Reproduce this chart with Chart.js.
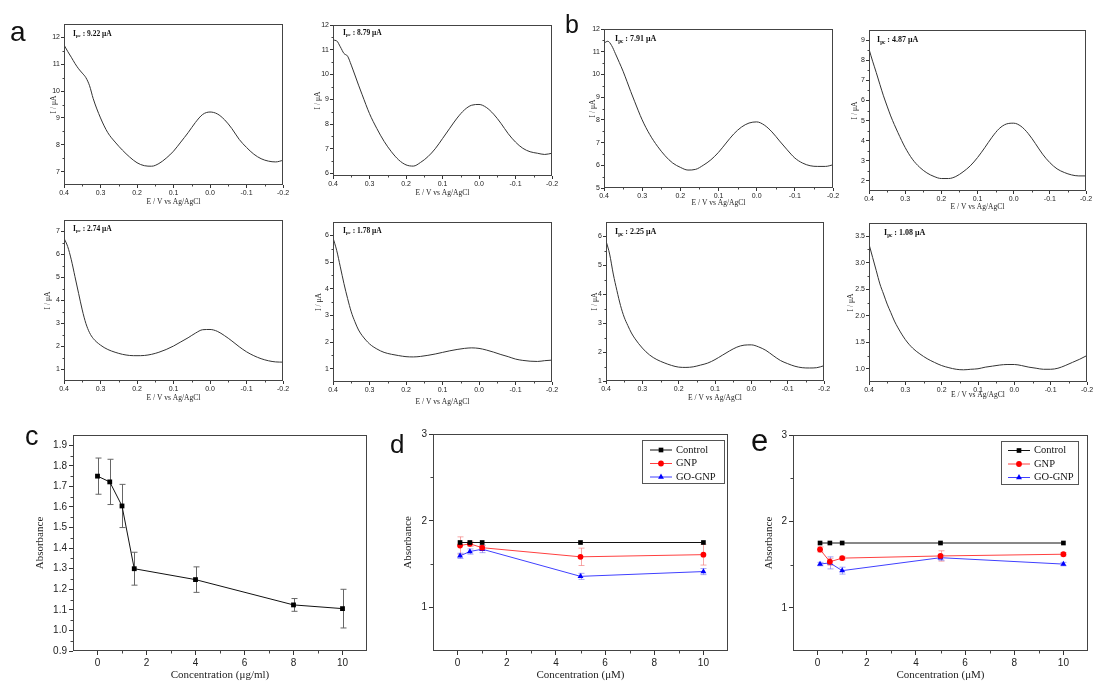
<!DOCTYPE html>
<html>
<head>
<meta charset="utf-8">
<script src="https://cdn.jsdelivr.net/npm/chart.js@4.4.1/dist/chart.umd.min.js"></script>
<style>
    html, body { margin: 0; padding: 0; background: #fff; }
    body { width: 1114px; height: 686px; position: relative; overflow: hidden; }
    canvas { position: absolute; }
    .pc-letra { position: absolute; font-family: "Liberation Sans", Arial, sans-serif; line-height: 1; color: #111; }
    .pc-ipc { position: absolute; font-family: "Liberation Serif", "Times New Roman", serif; font-weight: bold; line-height: 1; color: #111; white-space: nowrap; }
    .pc-ipc sub { font-size: 65%; vertical-align: -0.3em; line-height: 0; }
</style>
</head>
<body>
<script>
/* ============================================================
   CV + ABSORBANCE FIGURE
============================================================ */

/* ---- DPV curves (potential grid shared by the 8 panels) ---- */
const POTENCIAL = [0.40, 0.39, 0.38, 0.37, 0.36, 0.35, 0.34, 0.33, 0.32, 0.30, 0.28, 0.26, 0.24, 0.22, 0.20, 0.18, 0.16, 0.14, 0.12, 0.10, 0.08, 0.06, 0.04, 0.02, 0.00, -0.02, -0.04, -0.06, -0.08, -0.10, -0.12, -0.14, -0.16, -0.18, -0.20];

const I_A1 = [11.72, 11.48, 11.26, 11.03, 10.83, 10.67, 10.5, 10.2, 9.72, 9.0, 8.45, 8.1, 7.8, 7.54, 7.33, 7.22, 7.2, 7.3, 7.5, 7.76, 8.1, 8.45, 8.83, 9.13, 9.22, 9.15, 8.93, 8.6, 8.2, 7.9, 7.65, 7.48, 7.39, 7.36, 7.42];
const I_A2 = [11.39, 11.36, 11.12, 10.85, 10.74, 10.38, 9.98, 9.57, 9.18, 8.42, 7.82, 7.3, 6.88, 6.55, 6.35, 6.3, 6.45, 6.68, 7.0, 7.41, 7.83, 8.24, 8.57, 8.76, 8.79, 8.67, 8.4, 8.03, 7.61, 7.27, 7.02, 6.88, 6.82, 6.77, 6.82];
const I_A3 = [6.71, 6.35, 5.77, 5.04, 4.31, 3.59, 3.0, 2.6, 2.35, 2.06, 1.87, 1.75, 1.66, 1.61, 1.6, 1.61, 1.66, 1.75, 1.87, 2.02, 2.2, 2.38, 2.58, 2.73, 2.74, 2.66, 2.47, 2.24, 1.99, 1.77, 1.6, 1.47, 1.38, 1.33, 1.32];
const I_A4 = [5.91, 5.44, 4.82, 4.19, 3.63, 3.13, 2.76, 2.45, 2.24, 1.93, 1.74, 1.61, 1.54, 1.49, 1.45, 1.44, 1.46, 1.5, 1.55, 1.61, 1.67, 1.72, 1.76, 1.78, 1.76, 1.7, 1.62, 1.53, 1.45, 1.36, 1.31, 1.28, 1.27, 1.3, 1.32];
const I_B1 = [11.38, 11.46, 11.27, 10.91, 10.53, 10.14, 9.7, 9.25, 8.82, 8.0, 7.35, 6.84, 6.42, 6.1, 5.91, 5.79, 5.82, 6.0, 6.24, 6.57, 6.98, 7.38, 7.68, 7.86, 7.91, 7.77, 7.47, 7.07, 6.68, 6.32, 6.1, 5.98, 5.95, 5.95, 6.02];
const I_B2 = [8.55, 7.95, 7.39, 6.8, 6.23, 5.72, 5.23, 4.8, 4.4, 3.66, 3.08, 2.68, 2.4, 2.22, 2.12, 2.12, 2.22, 2.45, 2.75, 3.16, 3.65, 4.17, 4.6, 4.83, 4.87, 4.72, 4.36, 3.86, 3.33, 2.91, 2.6, 2.42, 2.3, 2.25, 2.25];
const I_B3 = [5.85, 5.39, 4.7, 4.13, 3.61, 3.21, 2.92, 2.66, 2.46, 2.14, 1.9, 1.74, 1.63, 1.54, 1.48, 1.47, 1.49, 1.55, 1.62, 1.74, 1.89, 2.04, 2.17, 2.24, 2.25, 2.18, 2.06, 1.88, 1.71, 1.6, 1.51, 1.46, 1.45, 1.46, 1.53];
const I_B4 = [3.35, 3.1, 2.85, 2.6, 2.41, 2.22, 2.06, 1.9, 1.77, 1.55, 1.39, 1.28, 1.19, 1.12, 1.06, 1.02, 0.99, 0.98, 0.99, 1.0, 1.03, 1.05, 1.07, 1.08, 1.08, 1.06, 1.03, 1.01, 0.99, 0.99, 1.01, 1.06, 1.12, 1.18, 1.25];

const IPC_TEXTOS = ["9.22", "8.79", "7.91", "4.87", "2.74", "1.78", "2.25", "1.08"];

const TICKS_POT = [0.4, 0.3, 0.2, 0.1, 0.0, -0.1, -0.2];
const TICKS_A1 = [7, 8, 9, 10, 11, 12];
const TICKS_A2 = [6, 7, 8, 9, 10, 11, 12];
const TICKS_B1 = [5, 6, 7, 8, 9, 10, 11, 12];
const TICKS_B2 = [2, 3, 4, 5, 6, 7, 8, 9];
const TICKS_A3 = [1, 2, 3, 4, 5, 6, 7];
const TICKS_A4 = [1, 2, 3, 4, 5, 6];
const TICKS_B3 = [1, 2, 3, 4, 5, 6];
const TICKS_B4 = [1.0, 1.5, 2.0, 2.5, 3.0, 3.5];

/* ---- panel c ---- */
const CONC_C = [0, 0.5, 1, 1.5, 4, 8, 10];
const ABS_C = [1.75, 1.722, 1.605, 1.30, 1.247, 1.124, 1.106];
const ERR_C = [0.088, 0.11, 0.105, 0.08, 0.062, 0.031, 0.094];
const TICKS_CONC = [0, 2, 4, 6, 8, 10];
const TICKS_ABS_C = [0.9, 1.0, 1.1, 1.2, 1.3, 1.4, 1.5, 1.6, 1.7, 1.8, 1.9];

/* ---- panels d / e ---- */
const SERIES = ["Control", "GNP", "GO-GNP"];
const CONC_DE = [0.1, 0.5, 1, 5, 10];
const D_CONTROL = [1.75, 1.75, 1.75, 1.75, 1.75];
const D_GNP = [1.715, 1.735, 1.69, 1.585, 1.61];
const D_GOGNP = [1.596, 1.646, 1.673, 1.36, 1.415];
const D_GNP_ERR = [0.1, 0.03, 0.03, 0.1, 0.12];
const D_GOGNP_ERR = [0.03, 0.03, 0.04, 0.035, 0.035];
const E_CONTROL = [1.75, 1.75, 1.75, 1.75, 1.75];
const E_GNP = [1.675, 1.533, 1.575, 1.6, 1.62];
const E_GOGNP = [1.506, 1.52, 1.43, 1.58, 1.506];
const E_GNP_ERR = [0.03, 0.04, 0.02, 0.06, 0.02];
const E_GOGNP_ERR = [0.02, 0.07, 0.04, 0.03, 0.02];
const TICKS_ABS_DE = [1, 2, 3];

/* ============================================================ */

const SANS = "'Liberation Sans', Arial, sans-serif";
const SERIF = "'Liberation Serif', 'Times New Roman', serif";

// frame, minor ticks, error bars and the boxed legend (Origin look)
const pcFrame = {
    id: "frame",
    beforeDatasetsDraw(chart) {
        const ctx = chart.ctx;
        const xs = chart.scales.x, ys = chart.scales.y;
        for (const ds of chart.data.datasets) {
            if (!ds.errores) continue;
            ctx.save();
            ctx.strokeStyle = ds.errorColor;
            ctx.lineWidth = 1;
            ds.data.forEach((p, i) => {
                const e = ds.errores[i];
                if (!e) return;
                const px = Math.round(xs.getPixelForValue(p.x)) + 0.5;
                const y1 = ys.getPixelForValue(p.y + e);
                const y2 = ys.getPixelForValue(p.y - e);
                ctx.beginPath();
                ctx.moveTo(px, y1); ctx.lineTo(px, y2);
                ctx.moveTo(px - 3, y1); ctx.lineTo(px + 3, y1);
                ctx.moveTo(px - 3, y2); ctx.lineTo(px + 3, y2);
                ctx.stroke();
            });
            ctx.restore();
        }
    },
    afterDraw(chart, args, opts) {
        const ctx = chart.ctx;
        const a = chart.chartArea;
        const xs = chart.scales.x, ys = chart.scales.y;
        ctx.save();
        ctx.strokeStyle = opts.color;
        ctx.lineWidth = 1;
        ctx.strokeRect(Math.round(a.left) + 0.5, Math.round(a.top) + 0.5,
            Math.round(a.right - a.left) - 1, Math.round(a.bottom - a.top) - 1);

        // minor ticks halfway between majors
        ctx.beginPath();
        for (let i = 1; i < xs.ticks.length; i++) {
            const m = (xs.ticks[i - 1].value + xs.ticks[i].value) / 2;
            const px = Math.round(xs.getPixelForValue(m)) + 0.5;
            ctx.moveTo(px, a.bottom); ctx.lineTo(px, a.bottom + opts.minor);
        }
        for (let i = 1; i < ys.ticks.length; i++) {
            const m = (ys.ticks[i - 1].value + ys.ticks[i].value) / 2;
            const py = Math.round(ys.getPixelForValue(m)) + 0.5;
            ctx.moveTo(a.left, py); ctx.lineTo(a.left - opts.minor, py);
        }
        ctx.stroke();

        const lg = opts.legend;
        if (lg) {
            const bx = Math.round(a.right - lg.right - lg.w);
            const by = Math.round(a.top + lg.top);
            ctx.strokeStyle = "#555";
            ctx.strokeRect(bx + 0.5, by + 0.5, lg.w, lg.h);
            chart.data.datasets.forEach((ds, i) => {
                const cy = by + lg.first + i * lg.row;
                const x1 = bx + lg.pad, x2 = x1 + 22;
                ctx.strokeStyle = ds.borderColor;
                ctx.lineWidth = 1;
                ctx.beginPath(); ctx.moveTo(x1, cy); ctx.lineTo(x2, cy); ctx.stroke();
                ctx.fillStyle = ds.pointBackgroundColor;
                Chart.helpers.drawPoint(ctx, { pointStyle: ds.pointStyle, radius: ds.pointRadius, borderWidth: 0, rotation: 0 }, (x1 + x2) / 2, cy);
                ctx.fillStyle = "#111";
                ctx.font = "10.5px " + SERIF;
                ctx.textBaseline = "middle";
                ctx.textAlign = "left";
                ctx.fillText(ds.label, x2 + 4, cy);
            });
        }
        ctx.restore();
    }
};

function pc_canvas(left, top, w, h) {
    const c = document.createElement("canvas");
    c.width = w; c.height = h;
    c.style.left = left + "px";
    c.style.top = top + "px";
    c.style.width = w + "px";
    c.style.height = h + "px";
    document.body.appendChild(c);
    return c;
}

function pc_chart(cfg) {
    const [l, t, r, b] = cfg.box;
    const lh = cfg.titleSize * 1.2;
    const left = Math.round(cfg.yTitle - lh / 2);
    const bottom = Math.round(cfg.xTitle + lh / 2);
    const top = t - 10;
    const right = r + 20;
    const canvas = pc_canvas(left, top, right - left, bottom - top);
    const yW = l - left;
    const xH = bottom - b;

    const tickFont = { family: SANS, size: cfg.tickSize };
    const titleFont = { family: SERIF, size: cfg.titleSize };
    const grid = { drawOnChartArea: false, drawTicks: true, tickLength: cfg.tickLen, color: "#333" };

    return new Chart(canvas, {
        type: "line",
        data: { datasets: cfg.datasets },
        options: {
            responsive: false,
            animation: false,
            events: [],
            layout: { padding: { left: 0, top: 10, right: 20, bottom: 0 } },
            plugins: {
                legend: { display: false },
                tooltip: { enabled: false },
                frame: { color: "#444", minor: cfg.tickLen - 1.5, legend: cfg.legend || null }
            },
            scales: {
                x: {
                    type: "linear",
                    reverse: !!cfg.xReverse,
                    min: cfg.xMin, max: cfg.xMax,
                    afterBuildTicks: s => { s.ticks = cfg.xTicks.map(v => ({ value: v })); },
                    afterFit: s => { s.height = xH; },
                    ticks: {
                        font: tickFont, color: "#222", padding: cfg.tickPad,
                        maxRotation: 0, autoSkip: false,
                        callback: v => (Math.abs(v) < 1e-9 ? 0 : v).toFixed(cfg.xDec)
                    },
                    grid: grid,
                    border: { display: false },
                    title: { display: true, text: cfg.xLabel, font: titleFont, color: "#222", padding: 0 }
                },
                y: {
                    type: "linear",
                    min: cfg.yMin, max: cfg.yMax,
                    afterBuildTicks: s => { s.ticks = cfg.yTicks.map(v => ({ value: v })); },
                    afterFit: s => { s.width = yW; },
                    ticks: {
                        font: tickFont, color: "#222", padding: cfg.tickPad,
                        autoSkip: false,
                        callback: v => v.toFixed(cfg.yDec)
                    },
                    grid: grid,
                    border: { display: false },
                    title: { display: true, text: cfg.yLabel, font: titleFont, color: "#222", padding: 0 }
                }
            }
        },
        plugins: [pcFrame]
    });
}

function pc_zip(xs, ys) {
    return xs.map((x, i) => ({ x: x, y: ys[i] }));
}

/* ---- the eight voltammograms ---- */
const CV_PANELES = [
    { cur: I_A1, ticks: TICKS_A1, yMin: 6.5, yMax: 12.5, box: [64, 24, 283, 185], yT: 54, xT: 202, ipc: [73, 34, 7.5] },
    { cur: I_A2, ticks: TICKS_A2, yMin: 5.9, yMax: 12, box: [333, 25, 552, 176], yT: 318, xT: 193, ipc: [343, 33, 7.5] },
    { cur: I_B1, ticks: TICKS_B1, yMin: 5, yMax: 12, box: [604, 29, 833, 188], yT: 593, xT: 203, ipc: [615, 39, 8] },
    { cur: I_B2, ticks: TICKS_B2, yMin: 1.5, yMax: 9.5, box: [869, 30, 1086, 191], yT: 855, xT: 207, ipc: [877, 40, 8] },
    { cur: I_A3, ticks: TICKS_A3, yMin: 0.5, yMax: 7.5, box: [64, 220, 283, 381], yT: 48, xT: 398, ipc: [73, 229, 7.5] },
    { cur: I_A4, ticks: TICKS_A4, yMin: 0.5, yMax: 6.5, box: [333, 222, 552, 382], yT: 319, xT: 402, ipc: [343, 231, 7.5] },
    { cur: I_B3, ticks: TICKS_B3, yMin: 1, yMax: 6.5, box: [606, 222, 824, 381], yT: 595, xT: 398, ipc: [615, 232, 8] },
    { cur: I_B4, ticks: TICKS_B4, yMin: 0.75, yMax: 3.75, box: [869, 223, 1087, 382], yT: 851, xT: 395, ipc: [884, 233, 8] }
];

CV_PANELES.forEach((p, i) => {
    pc_chart({
        box: p.box, yTitle: p.yT, xTitle: p.xT,
        titleSize: 7.5, tickSize: 7, tickLen: 3, tickPad: 1,
        xMin: -0.2, xMax: 0.4, xReverse: true, xTicks: TICKS_POT, xDec: 1,
        yMin: p.yMin, yMax: p.yMax, yTicks: p.ticks,
        yDec: p.ticks.some(v => v % 1 !== 0) ? 1 : 0,
        xLabel: "E / V vs Ag/AgCl", yLabel: "I / \u03bcA",
        datasets: [{
            data: pc_zip(POTENCIAL, p.cur),
            borderColor: "#333", borderWidth: 1,
            pointRadius: 0, cubicInterpolationMode: "monotone"
        }]
    });

    const d = document.createElement("div");
    d.className = "pc-ipc";
    d.style.left = p.ipc[0] + "px";
    d.style.top = (p.ipc[1] - p.ipc[2] / 2) + "px";
    d.style.fontSize = p.ipc[2] + "px";
    d.innerHTML = "I<sub>pc</sub> : " + IPC_TEXTOS[i] + " \u03bcA";
    document.body.appendChild(d);
});

/* ---- c ---- */
pc_chart({
    box: [73, 435, 367, 651], yTitle: 41, xTitle: 675,
    titleSize: 11, tickSize: 10, tickLen: 4, tickPad: 2,
    xMin: -1, xMax: 11, xTicks: TICKS_CONC, xDec: 0,
    yMin: 0.9, yMax: 1.95, yTicks: TICKS_ABS_C, yDec: 1,
    xLabel: "Concentration (\u03bcg/ml)", yLabel: "Absorbance",
    datasets: [{
        data: pc_zip(CONC_C, ABS_C), errores: ERR_C, errorColor: "#666",
        borderColor: "#111", borderWidth: 1,
        pointStyle: "rect", pointRadius: 3.4, pointBackgroundColor: "#000", pointBorderWidth: 0
    }]
});

/* ---- d / e ---- */
function pc_seriesDE(control, gnp, gognp, gnpErr, gognpErr) {
    return [
        { label: SERIES[0], data: pc_zip(CONC_DE, control), borderColor: "#111", borderWidth: 1,
          pointStyle: "rect", pointRadius: 3.3, pointBackgroundColor: "#000", pointBorderWidth: 0 },
        { label: SERIES[1], data: pc_zip(CONC_DE, gnp), errores: gnpErr, errorColor: "rgba(240,110,110,0.6)",
          borderColor: "#ff4040", borderWidth: 1,
          pointStyle: "circle", pointRadius: 2.9, pointBackgroundColor: "#ff0000", pointBorderWidth: 0 },
        { label: SERIES[2], data: pc_zip(CONC_DE, gognp), errores: gognpErr, errorColor: "rgba(110,110,240,0.6)",
          borderColor: "#4040ff", borderWidth: 1,
          pointStyle: "triangle", pointRadius: 3.4, pointBackgroundColor: "#0000ff", pointBorderWidth: 0 }
    ];
}

pc_chart({
    box: [433, 434, 728, 651], yTitle: 409, xTitle: 675,
    titleSize: 11, tickSize: 10, tickLen: 4, tickPad: 2,
    xMin: -1, xMax: 11, xTicks: TICKS_CONC, xDec: 0,
    yMin: 0.5, yMax: 3, yTicks: TICKS_ABS_DE, yDec: 0,
    xLabel: "Concentration (\u03bcM)", yLabel: "Absorbance",
    legend: { right: 4, top: 6, w: 82, h: 43, first: 10, row: 13.5, pad: 8 },
    datasets: pc_seriesDE(D_CONTROL, D_GNP, D_GOGNP, D_GNP_ERR, D_GOGNP_ERR)
});

pc_chart({
    box: [793, 435, 1088, 651], yTitle: 770, xTitle: 675,
    titleSize: 11, tickSize: 10, tickLen: 4, tickPad: 2,
    xMin: -1, xMax: 11, xTicks: TICKS_CONC, xDec: 0,
    yMin: 0.5, yMax: 3, yTicks: TICKS_ABS_DE, yDec: 0,
    xLabel: "Concentration (\u03bcM)", yLabel: "Absorbance",
    legend: { right: 10, top: 6, w: 77, h: 43, first: 9.5, row: 13.5, pad: 7 },
    datasets: pc_seriesDE(E_CONTROL, E_GNP, E_GOGNP, E_GNP_ERR, E_GOGNP_ERR)
});

/* ---- panel letters ---- */
const LETRAS = ["a", "b", "c", "d", "e"];
const LETRAS_POS = [[10, 18, 28], [565, 12, 25], [25, 423, 27], [390, 431, 26], [751, 425, 31]];
LETRAS.forEach((t, i) => {
    const d = document.createElement("div");
    d.className = "pc-letra";
    d.style.left = LETRAS_POS[i][0] + "px";
    d.style.top = LETRAS_POS[i][1] + "px";
    d.style.fontSize = LETRAS_POS[i][2] + "px";
    d.textContent = t;
    document.body.appendChild(d);
});
</script>
</body>
</html>
